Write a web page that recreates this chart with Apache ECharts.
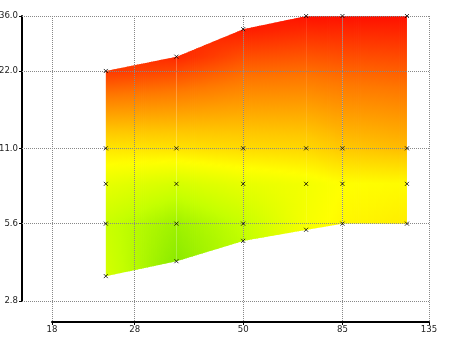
<!DOCTYPE html>
<html>
<head>
<meta charset="utf-8">
<script src="https://cdn.jsdelivr.net/npm/echarts@6/dist/echarts.min.js"></script>
<style>
  html, body { margin: 0; padding: 0; background: #fff; }
  #chart { width: 450px; height: 337px; }
</style>
</head>
<body>
<div id="chart"></div>
<script>
// Axis tick values (both axes logarithmic)
const xTicks = [18, 28, 50, 85, 135];
const yTicks = [2.8, 5.6, 11.0, 22.0, 36.0];

// Measurement columns: x position, node heights and the level measured at each node
const columnX = [24, 35, 50, 70, 85, 120];
const columnY = [
  [3.5, 5.6, 8, 11, 22],
  [4.0, 5.6, 8, 11, 25],
  [4.8, 5.6, 8, 11, 32],
  [5.3, 8, 11, 36],
  [5.6, 8, 11, 36],
  [5.6, 8, 11, 36]
];
const columnLevel = [
  [31, 27, 37, 52, 90],
  [8, 14, 31, 53, 93],
  [24, 26, 37, 55, 95],
  [42, 41, 56, 97],
  [47, 45, 60, 97],
  [50, 46, 63, 97]
];

// Colour scale for the level field
const levelStops = [0, 25, 45, 60, 78, 100];
const levelColors = ['#70e000', '#c4ff00', '#ffff00', '#ffc800', '#ff7800', '#ff0000'];

// Layout: plot box spanned by the tick range, and the outer frame the axes sit on
const PLOT = { left: 52, top: 16, right: 429, bottom: 301 };
const FRAME = { left: 22, bottom: 322 };
const W = 450, H = 337;

const xSpan = xTicks[xTicks.length - 1] / xTicks[0];
const ySpan = yTicks[yTicks.length - 1] / yTicks[0];
const xFrameMin = xTicks[0] * Math.pow(xSpan, -(PLOT.left - FRAME.left) / (PLOT.right - PLOT.left));
const yFrameMin = yTicks[0] * Math.pow(ySpan, -(FRAME.bottom - PLOT.bottom) / (PLOT.bottom - PLOT.top));

const FONT = "'Liberation Sans Narrow', 'DejaVu Sans Condensed', 'Liberation Sans', sans-serif";

function hexRgb(h) {
  return [parseInt(h.slice(1, 3), 16), parseInt(h.slice(3, 5), 16), parseInt(h.slice(5, 7), 16)];
}
const levelRgb = levelColors.map(hexRgb);
function levelColor(v) {
  v = Math.max(levelStops[0], Math.min(levelStops[levelStops.length - 1], v));
  let k = 0;
  while (k < levelStops.length - 2 && v > levelStops[k + 1]) k++;
  const t = (v - levelStops[k]) / (levelStops[k + 1] - levelStops[k]);
  const a = levelRgb[k], b = levelRgb[k + 1];
  const c = a.map((ch, i) => Math.round(ch + (b[i] - ch) * t));
  return 'rgb(' + c.join(',') + ')';
}

function columnProfile(api, c) {
  return columnY[c]
    .map((v, k) => ({ py: api.coord([columnX[c], v])[1], lv: columnLevel[c][k] }))
    .sort((a, b) => a.py - b.py);
}
function profileAt(pts, py) {
  if (py <= pts[0].py) return pts[0].lv;
  const last = pts[pts.length - 1];
  if (py >= last.py) return last.lv;
  for (let k = 0; k < pts.length - 1; k++) {
    if (py <= pts[k + 1].py) {
      const t = (py - pts[k].py) / (pts[k + 1].py - pts[k].py);
      return pts[k].lv + (pts[k + 1].lv - pts[k].lv) * t;
    }
  }
  return last.lv;
}

// Shade the band between two neighbouring columns with thin vertical strips
function renderBand(params, api) {
  const i = api.value(2);
  const L = columnProfile(api, i), R = columnProfile(api, i + 1);
  const xL = api.coord([columnX[i], yTicks[0]])[0];
  const xR = api.coord([columnX[i + 1], yTicks[0]])[0];
  const topL = L[0].py, botL = L[L.length - 1].py;
  const topR = R[0].py, botR = R[R.length - 1].py;
  const n = Math.max(1, Math.ceil((xR - xL) / 2));
  const children = [];
  for (let k = 0; k < n; k++) {
    const t0 = k / n, t1 = (k + 1) / n, tm = (t0 + t1) / 2;
    const x0 = xL + (xR - xL) * t0;
    const x1 = xL + (xR - xL) * t1 + (k < n - 1 ? 0.8 : 0);
    const top0 = topL + (topR - topL) * t0, top1 = topL + (topR - topL) * t1;
    const bot0 = botL + (botR - botL) * t0, bot1 = botL + (botR - botL) * t1;
    const yA = Math.min(top0, top1), yB = Math.max(bot0, bot1);
    const m = Math.max(2, Math.ceil((yB - yA) / 4));
    const stops = [];
    for (let s = 0; s <= m; s++) {
      const py = yA + (yB - yA) * s / m;
      const lv = profileAt(L, py) + (profileAt(R, py) - profileAt(L, py)) * tm;
      stops.push({ offset: s / m, color: levelColor(lv) });
    }
    children.push({
      type: 'polygon',
      shape: { points: [[x0, top0], [x1, top1], [x1, bot1], [x0, bot0]] },
      style: { fill: new echarts.graphic.LinearGradient(x0, yA, x0, yB, stops, true) },
      silent: true
    });
  }
  return { type: 'group', children: children };
}

const bands = columnX.slice(0, -1).map((x, i) => [x, columnY[i][0], i]);
const nodes = [];
columnX.forEach((x, c) => columnY[c].forEach(y => nodes.push([x, y])));

const labelStyle = { color: '#222', fontSize: 9.5, fontFamily: FONT };
const gridLine = { show: true, lineStyle: { color: '#888', width: 1, type: [1, 1] } };

const chart = echarts.init(document.getElementById('chart'), null, { renderer: 'canvas' });
chart.setOption({
  animation: false,
  backgroundColor: '#fff',
  grid: [
    { left: PLOT.left, top: PLOT.top, right: W - PLOT.right, bottom: H - PLOT.bottom,
      containLabel: false, outerBoundsMode: 'none' },
    { left: FRAME.left, top: PLOT.top, right: W - PLOT.right, bottom: H - FRAME.bottom,
      containLabel: false, outerBoundsMode: 'none' }
  ],
  xAxis: [
    {
      type: 'log', gridIndex: 0, min: xTicks[0], max: xTicks[xTicks.length - 1],
      offset: FRAME.bottom - PLOT.bottom,
      axisLine: { show: true, lineStyle: { color: '#000', width: 2 } },
      axisTick: { show: true, length: 3, customValues: xTicks, lineStyle: { color: '#000', width: 1 } },
      axisLabel: { show: true, margin: 3, customValues: xTicks, formatter: v => String(v), ...labelStyle },
      splitLine: { show: false }
    },
    {
      type: 'log', gridIndex: 1, min: xFrameMin, max: xTicks[xTicks.length - 1], z: 10,
      axisLine: { show: false },
      axisTick: { show: false, customValues: xTicks },
      axisLabel: { show: false, customValues: xTicks },
      splitLine: gridLine
    }
  ],
  yAxis: [
    {
      type: 'log', gridIndex: 0, min: yTicks[0], max: yTicks[yTicks.length - 1],
      offset: PLOT.left - FRAME.left,
      axisLine: { show: true, lineStyle: { color: '#000', width: 2 } },
      axisTick: { show: true, length: 3, customValues: yTicks, lineStyle: { color: '#000', width: 1 } },
      axisLabel: { show: true, margin: 4, customValues: yTicks, formatter: v => Number(v).toFixed(1), ...labelStyle },
      splitLine: { show: false }
    },
    {
      type: 'log', gridIndex: 1, min: yFrameMin, max: yTicks[yTicks.length - 1], z: 10,
      axisLine: { show: false },
      axisTick: { show: false, customValues: yTicks },
      axisLabel: { show: false, customValues: yTicks },
      splitLine: gridLine
    }
  ],
  series: [
    {
      type: 'custom',
      xAxisIndex: 0, yAxisIndex: 0,
      renderItem: renderBand,
      data: bands,
      encode: { x: 0, y: 1 },
      silent: true,
      z: 2
    },
    {
      type: 'scatter',
      xAxisIndex: 0, yAxisIndex: 0,
      data: nodes,
      symbol: 'path://M0,0L10,10M10,0L0,10',
      symbolSize: 4,
      itemStyle: { color: 'rgba(0,0,0,0)', borderColor: '#000', borderWidth: 1 },
      silent: true,
      z: 20
    }
  ]
});
</script>
</body>
</html>
